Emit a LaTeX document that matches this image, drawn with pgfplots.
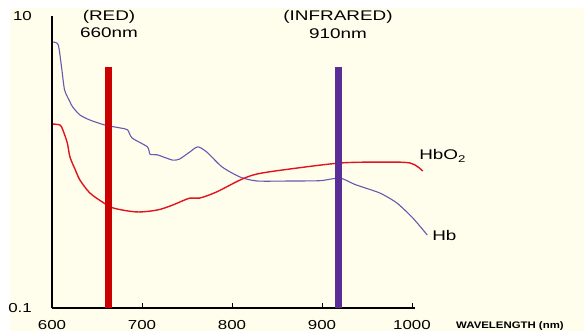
\documentclass[border=0pt]{standalone}
\usepackage{fontspec}
\setmainfont{Liberation Sans}
\usepackage{pgfplots}
\pgfplotsset{compat=1.18}
\definecolor{cream}{HTML}{FFFEEC}
\definecolor{hbcol}{HTML}{6659B0}
\definecolor{hbotwo}{HTML}{E0141E}
\definecolor{redbar}{HTML}{CC0000}
\definecolor{irbar}{HTML}{5A2E96}
\begin{document}
\begin{tikzpicture}
\useasboundingbox (0pt,0pt) rectangle (584pt,331pt);
\fill[white] (0pt,0pt) rectangle (584pt,331pt);
\fill[cream] (10pt,0pt) rectangle (584pt,323pt);
\begin{axis}[
  at={(52pt,23pt)}, anchor=south west,
  scale only axis, width=362.7pt, height=292pt,
  xmin=600, xmax=1003, ymin=0.1, ymax=10, ymode=log,
  axis x line=bottom, axis y line=left,
  axis line style={line width=1.6pt, -},
  clip=false,
  xtick={600,700,800,900,1000},
  xticklabels={600,700,800,900,1000},
  tick align=inside, major tick length=5pt,
  x tick style={black, line width=0.8pt},
  ytick={0.1,10}, yticklabels={0.1,10},
  y tick style={draw=none},
  tick label style={font=\fontsize{13}{13}\selectfont, xscale=1.3},
  x tick label style={yshift=-9pt},
  y tick label style={xshift=-12pt},
  /pgf/number format/assume math mode=true,
]
\addplot[hbcol, line width=1.1pt, smooth, tension=0.4] coordinates {
(601,6.63) (607,6.33) (611,4.27) (614,3.11) (620,2.58) (623,2.38) (631,2.10) (642,1.94) (659,1.79) (676,1.71) (684,1.66) (689,1.46) (706,1.27) (709,1.13) (717,1.12) (734,1.03) (742,1.05) (753,1.17) (762,1.27) (772,1.17) (789,0.925) (809,0.789) (828,0.741) (864,0.741) (898,0.745) (920,0.776) (937,0.70) (964,0.614) (983,0.525) (1001,0.413) (1017,0.316)
};
\addplot[hbotwo, line width=1.4pt, smooth, tension=0.5] coordinates {
(601,1.82) (609,1.79) (612,1.66) (617,1.35) (620,1.08) (626,0.881) (631,0.753) (642,0.614) (656,0.532) (668,0.484) (694,0.455) (717,0.469) (734,0.507) (753,0.566) (764,0.566) (783,0.624) (809,0.753) (828,0.828) (864,0.895) (920,0.984) (964,0.998) (998,0.984) (1012,0.867)
};
\addplot[redbar, line width=7pt] coordinates {(663,0.1) (663,4.47)};
\addplot[irbar, line width=7pt] coordinates {(918,0.1) (918,4.47)};
\end{axis}
\begin{scope}[every node/.style={font=\fontsize{14}{14}\selectfont, xscale=1.35, inner sep=0pt}]
\node at (109pt,314pt) {(RED)};
\node at (109pt,298pt) {660nm};
\node at (338pt,314pt) {(INFRARED)};
\node at (338pt,297pt) {910nm};
\node[anchor=west] at (419pt,175pt) {HbO\textsubscript{2}};
\node[anchor=west] at (432pt,95pt) {Hb};
\end{scope}
\node[anchor=west, inner sep=0pt, font=\fontsize{9.5}{10}\selectfont\bfseries, xscale=1.2] at (456pt,5pt) {WAVELENGTH (nm)};
\end{tikzpicture}
\end{document}
